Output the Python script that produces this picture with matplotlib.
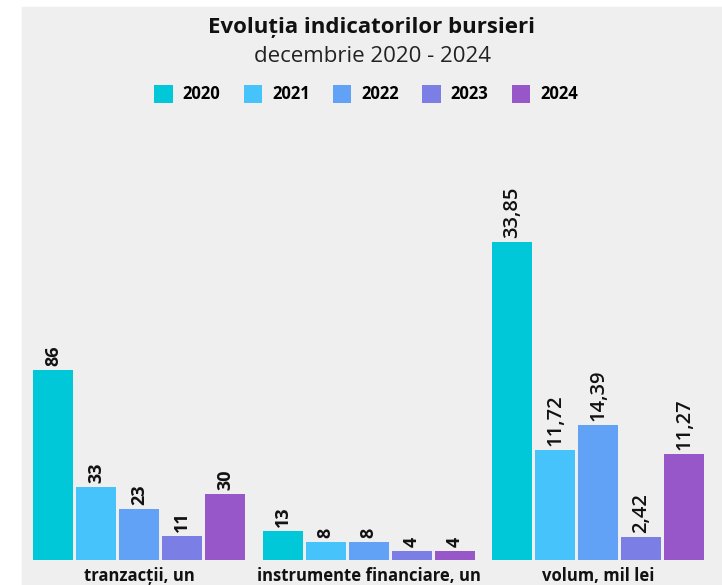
# Evoluția indicatorilor bursieri - grafic cu bare grupate
import matplotlib
matplotlib.use('Agg')
import matplotlib.pyplot as plt
from matplotlib.patches import Rectangle

categorii = ['tranzacții, un', 'instrumente financiare, un', 'volum, mil lei']
ani = ['2020', '2021', '2022', '2023', '2024']
tranzactii = [86, 33, 23, 11, 30]
instrumente = [13, 8, 8, 4, 4]
volum = [33.85, 11.72, 14.39, 2.42, 11.27]
culori = ['#00C8D8', '#45C3FA', '#62A2F6', '#7B7FE5', '#9857C9']

plt.rcParams['font.family'] = ['Open Sans', 'DejaVu Sans']

W, H = 722, 585
fig = plt.figure(figsize=(W / 100, H / 100), dpi=100)
fig.patch.set_facecolor('white')
# fundal "marmura" (aproximat cu gri deschis)
fig.patches.append(Rectangle((22 / W, 0), 1 - 22 / W, (H - 7) / H,
                             transform=fig.transFigure, color='#efefef', zorder=-5))

pos = [22 / W, 25 / H, 700 / W, 360 / H]
ax1 = fig.add_axes(pos)
ax2 = ax1.twinx()
for ax in (ax1, ax2):
    ax.set_facecolor('none')
    for s in ax.spines.values():
        s.set_visible(False)
    ax.set_yticks([])
    ax.tick_params(length=0)
ax1.set_xticks([])

pas_grup = 5.34
latime = 0.93
ax1.set_xlim(-0.72, 15.56)
ax1.set_ylim(0, 163)
ax2.set_ylim(0, 38.3)

def eticheta(ax, x, v, text, marime, greutate):
    ax.annotate(text, (x, v), xytext=(0, 3), textcoords='offset points',
                ha='center', va='bottom', rotation=90, fontsize=marime,
                fontweight=greutate, color='#111111')

for j, an in enumerate(ani):
    xs = [g * pas_grup + j for g in range(3)]
    ax1.bar(xs[:2], [tranzactii[j], instrumente[j]], width=latime,
            color=culori[j], label=an, zorder=2)
    ax2.bar(xs[2], volum[j], width=latime, color=culori[j], zorder=2)
    eticheta(ax1, xs[0], tranzactii[j], str(tranzactii[j]), 13, 'bold')
    eticheta(ax1, xs[1], instrumente[j], str(instrumente[j]), 13, 'bold')
    eticheta(ax2, xs[2], volum[j], f'{volum[j]:.2f}'.replace('.', ','), 14.5, 'semibold')

for g, cat in enumerate(categorii):
    ax1.annotate(cat, (g * pas_grup + 2, 0), xytext=(0, -5), textcoords='offset points',
                 ha='center', va='top', fontsize=12, fontweight='bold',
                 color='#111111', annotation_clip=False)

fig.text(372 / W, 1 - 27 / H, 'Evoluția indicatorilor bursieri', ha='center', va='center',
         fontsize=16, fontweight='bold', color='#111111')
fig.text(372 / W, 1 - 56 / H, 'decembrie 2020 - 2024', ha='center', va='center',
         fontsize=16, color='#222222')

h, l = ax1.get_legend_handles_labels()
fig.legend(h, l, loc='center', bbox_to_anchor=(366 / W, 1 - 94 / H), ncol=5,
           frameon=False, handlelength=1.1, handleheight=1.3, handletextpad=0.6,
           columnspacing=1.4, prop={'size': 12, 'weight': 'bold'})

fig.savefig('out.png', dpi=100, facecolor=fig.get_facecolor())
